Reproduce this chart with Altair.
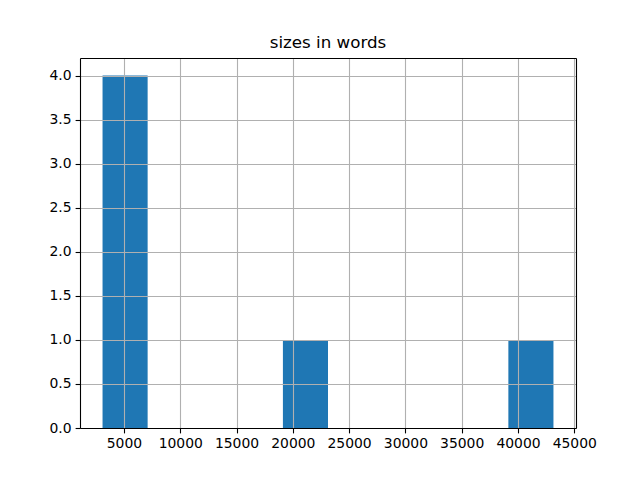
import altair as alt
import pandas as pd

# Histogram bins (10 bins)
bin_start = [3100, 7105, 11110, 15115, 19120, 23125, 27130, 31135, 35140, 39145]
bin_end = [7105, 11110, 15115, 19120, 23125, 27130, 31135, 35140, 39145, 43150]
counts = [4, 0, 0, 0, 1, 0, 0, 0, 0, 1]

x_ticks = [5000, 10000, 15000, 20000, 25000, 30000, 35000, 40000, 45000]
y_ticks = [0.0, 0.5, 1.0, 1.5, 2.0, 2.5, 3.0, 3.5, 4.0]

df = pd.DataFrame({"start": bin_start, "end": bin_end, "count": counts})

x_scale = alt.Scale(domain=[1097.5, 45152.5], nice=False, zero=False)
y_scale = alt.Scale(domain=[0, 4.2], nice=False)

axis_common = dict(
    grid=True,
    gridColor="#b0b0b0",
    gridWidth=1.1,
    domainColor="black",
    domainWidth=1.1,
    tickColor="black",
    tickSize=4.9,
    tickWidth=1.1,
    labelColor="black",
    labelFont="DejaVu Sans",
    labelFontSize=13.9,
    labelPadding=4,
    title=None,
    zindex=1,
)

frame_axis = dict(
    grid=False,
    labels=False,
    ticks=False,
    domainColor="black",
    domainWidth=1.1,
    title=None,
    zindex=2,
)

bars = (
    alt.Chart(df)
    .mark_rect(color="#1f77b4")
    .encode(
        x=alt.X("start:Q", scale=x_scale,
                axis=alt.Axis(values=x_ticks, format="d", **axis_common)),
        x2="end:Q",
        y=alt.Y("count:Q", scale=y_scale,
                axis=alt.Axis(values=y_ticks, format=".1f", **axis_common)),
        y2=alt.datum(0),
    )
)

frame = (
    alt.Chart(df)
    .mark_point(opacity=0)
    .encode(
        x=alt.X("start:Q", scale=x_scale, axis=alt.Axis(orient="top", **frame_axis)),
        y=alt.Y("count:Q", scale=y_scale, axis=alt.Axis(orient="right", **frame_axis)),
    )
)

chart = (
    alt.layer(bars, frame)
    .resolve_axis(x="independent", y="independent")
    .properties(
        width=496,
        height=370,
        title=alt.TitleParams(
            "sizes in words",
            font="DejaVu Sans",
            fontSize=16.7,
            fontWeight="normal",
            color="black",
            offset=6,
        ),
        autosize=alt.AutoSizeParams(type="none"),
        padding={"left": 72, "top": 50, "right": 56, "bottom": 45},
    )
    .configure_view(stroke=None)
    .configure(background="white")
)

chart.save("out.html", embed_options={"renderer": "svg", "actions": False})
